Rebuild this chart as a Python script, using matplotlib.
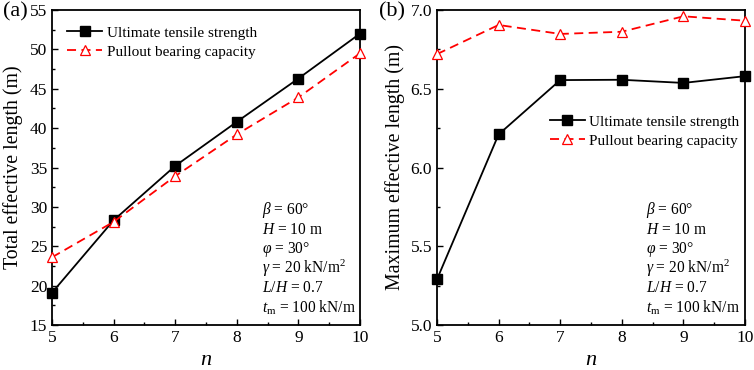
import matplotlib
matplotlib.use("Agg")
import matplotlib.pyplot as plt
from matplotlib.ticker import MultipleLocator, FormatStrFormatter

plt.rcParams['font.family'] = ['Liberation Serif', 'DejaVu Serif']
plt.rcParams['mathtext.fontset'] = 'custom'
plt.rcParams['mathtext.rm'] = 'Liberation Serif'
plt.rcParams['mathtext.it'] = 'Liberation Serif:italic'
plt.rcParams['mathtext.bf'] = 'Liberation Serif:bold'

n = [5, 6, 7, 8, 9, 10]
total_uts = [19.1, 28.3, 35.2, 40.8, 46.3, 52.0]
total_pull = [23.6, 28.1, 33.9, 39.2, 43.9, 49.5]
max_uts = [5.29, 6.21, 6.555, 6.557, 6.537, 6.58]
max_pull = [6.72, 6.905, 6.848, 6.862, 6.96, 6.932]

params = [r"$\beta$ = 60°", r"$H$ = 10 m", r"$\varphi$ = 30°",
          r"$\gamma$ = 20 kN/m$^2$", r"$L/H$ = 0.7", r"$t_{\rm m}$ = 100 kN/m"]

fig = plt.figure(figsize=(7.54, 3.70), dpi=100)
W, H = 754, 370
axa = fig.add_axes([52 / W, 1 - 325 / H, (360 - 52) / W, (325 - 10) / H])
axb = fig.add_axes([437 / W, 1 - 325 / H, (745 - 437) / W, (325 - 10) / H])

for ax, yu, yp in [(axa, total_uts, total_pull), (axb, max_uts, max_pull)]:
    ax.plot(n, yu, color='black', lw=1.3, marker='s', ms=6.5, mfc='black', mec='black',
            label='Ultimate tensile strength', clip_on=False, zorder=3)
    ax.plot(n, yp, color='red', lw=1.3, ls=(0, (5, 3)), marker='^', ms=7.5, mfc='white',
            mec='red', mew=0.9, label='Pullout bearing capacity', clip_on=False, zorder=3)
    ax.set_xlim(5, 10)
    ax.xaxis.set_major_locator(MultipleLocator(1))
    ax.xaxis.set_minor_locator(MultipleLocator(0.5))
    ax.tick_params(which='both', direction='in', labelsize=12.5)
    ax.tick_params(which='major', length=4, width=1)
    ax.tick_params(which='minor', length=2.5, width=1)
    for s in ax.spines.values():
        s.set_linewidth(1.3)
    ax.set_xlabel(r"$n$", fontsize=16, labelpad=4)

axa.set_ylim(15, 55)
axa.yaxis.set_major_locator(MultipleLocator(5))
axa.yaxis.set_minor_locator(MultipleLocator(2.5))
axa.set_ylabel("Total effective length (m)", fontsize=14.3, labelpad=5)

axb.set_ylim(5.0, 7.0)
axb.yaxis.set_major_locator(MultipleLocator(0.5))
axb.yaxis.set_minor_locator(MultipleLocator(0.25))
axb.yaxis.set_major_formatter(FormatStrFormatter('%.1f'))
axb.set_ylabel("Maximum effective length (m)", fontsize=14.3, labelpad=4)

axa.legend(loc='upper left', bbox_to_anchor=(0.03, 0.969), frameon=False, fontsize=11,
           handlelength=2.3, handletextpad=0.3, borderaxespad=0.0, labelspacing=0.35)
axb.legend(loc='upper left', bbox_to_anchor=(0.346, 0.686), frameon=False, fontsize=11,
           handlelength=2.3, handletextpad=0.3, borderaxespad=0.0, labelspacing=0.35)

for ax, x0 in [(axa, 262), (axb, 646)]:
    for i, t in enumerate(params):
        fig.text(x0 / W, 1 - (210 + i * 19.6) / H, t, fontsize=11.2, va='center', ha='left')

fig.text(3 / W, 1 - 12 / H, "(a)", fontsize=16, va='center', ha='left')
fig.text(379 / W, 1 - 12 / H, "(b)", fontsize=16, va='center', ha='left')

fig.savefig("out.png", dpi=100)
